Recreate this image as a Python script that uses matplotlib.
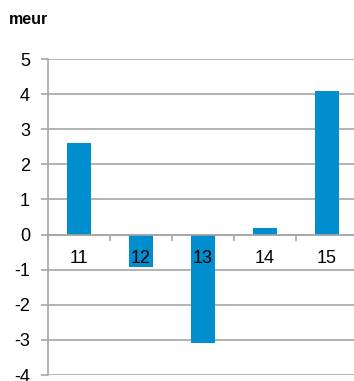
import matplotlib
matplotlib.use("Agg")
import matplotlib.pyplot as plt
import numpy as np

plt.rcParams['font.family'] = ['Liberation Sans', 'DejaVu Sans']

categories = ["11", "12", "13", "14", "15"]
values = [2.6, -0.92, -3.1, 0.2, 4.1]
yticks = [-4, -3, -2, -1, 0, 1, 2, 3, 4, 5]
unit_label = "meur"

bar_color = "#008ECE"
grid_color = "#A6A6A6"

fig = plt.figure(figsize=(3.54, 3.81), dpi=100)
ax = fig.add_axes([48 / 354, 6 / 381, 310 / 354, 316 / 381])

x = np.arange(len(categories))
ax.bar(x, values, width=0.39, color=bar_color, zorder=2)

ax.set_xlim(-0.5, len(categories) - 0.5)
ax.set_ylim(-4, 5)
ax.set_yticks(yticks)
ax.set_yticklabels([str(v) for v in yticks], fontsize=13)
ax.yaxis.grid(True, color=grid_color, linewidth=1.2, zorder=0)
ax.set_axisbelow(True)

for s in ["top", "right"]:
    ax.spines[s].set_visible(False)
ax.spines["left"].set_color(grid_color)
ax.spines["left"].set_linewidth(1.2)
ax.spines["bottom"].set_position(("data", 0))
ax.spines["bottom"].set_color(grid_color)
ax.spines["bottom"].set_linewidth(1.2)
ax.spines["bottom"].set_zorder(3)

ax.tick_params(axis="y", length=5, width=1.2, color=grid_color, pad=8, labelcolor="black")

# boundary tick marks on the zero line; category labels drawn on top of the bars
ax.set_xticks(np.arange(len(categories) + 1) - 0.5)
ax.set_xticklabels([])
ax.tick_params(axis="x", length=4, width=1.2, color=grid_color, direction="out")
for xi, lab in zip(x, categories):
    ax.annotate(lab, xy=(xi, 0), xytext=(0, -17), textcoords="offset points",
                ha="center", va="center", fontsize=13, zorder=5)

fig.text(9 / 354, 1 - 20 / 381, unit_label, fontsize=11.5, fontweight="bold", va="center", ha="left")

fig.savefig("out.png", dpi=100)
